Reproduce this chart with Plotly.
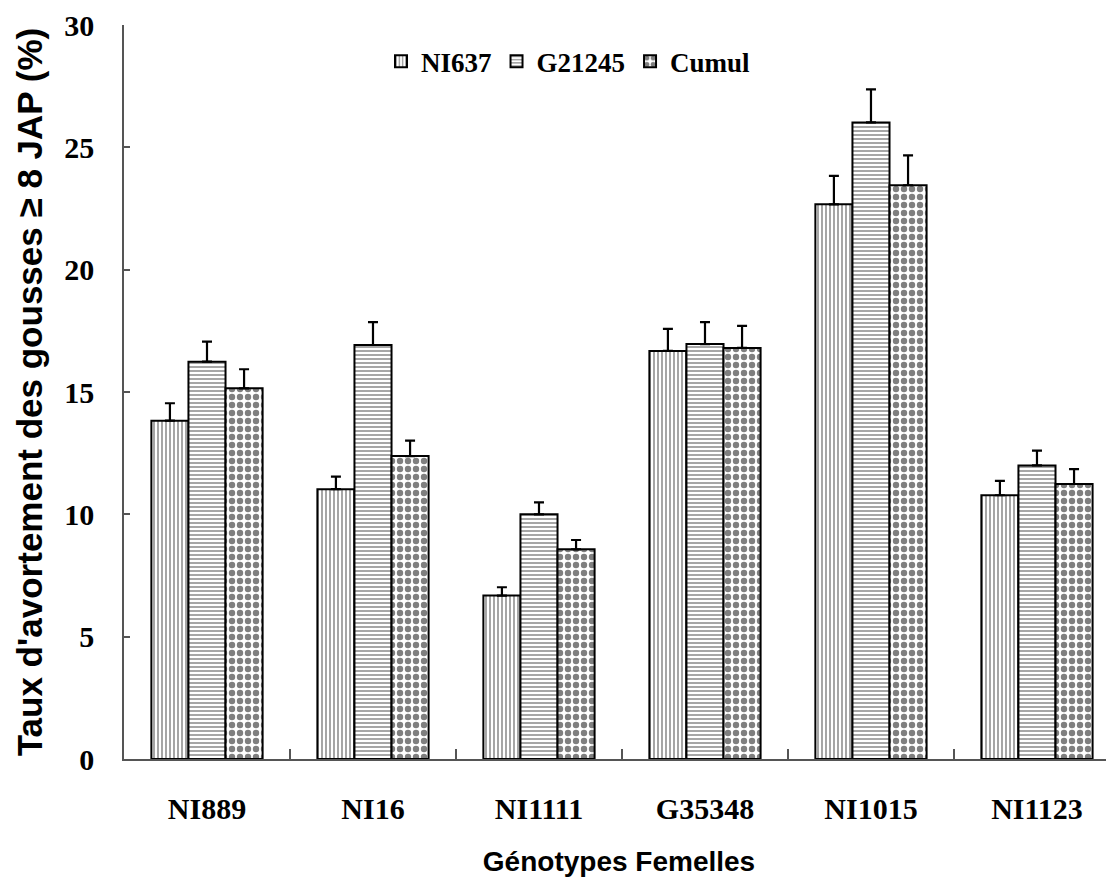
import plotly.graph_objects as go

categories = ["NI889", "NI16", "NI1111", "G35348", "NI1015", "NI1123"]
series_names = ["NI637", "G21245", "Cumul"]
ni637 = [13.83, 11.03, 6.68, 16.68, 22.67, 10.78]
g21245 = [16.24, 16.92, 10.0, 16.96, 26.02, 12.0]
cumul = [15.15, 12.38, 8.57, 16.8, 23.45, 11.24]
err_ni637 = [0.71, 0.51, 0.34, 0.90, 1.16, 0.59]
err_g21245 = [0.82, 0.94, 0.49, 0.90, 1.35, 0.60]
err_cumul = [0.78, 0.63, 0.38, 0.90, 1.22, 0.61]
y_ticks = [0, 5, 10, 15, 20, 25, 30]

values = [ni637, g21245, cumul]
errors = [err_ni637, err_g21245, err_cumul]
patterns = [
    dict(shape="|", size=4, solidity=0.35, fgcolor="black", bgcolor="white"),
    dict(shape="-", size=4, solidity=0.35, fgcolor="black", bgcolor="white"),
    dict(shape=".", size=8, solidity=0.5, fgcolor="black", bgcolor="white"),
]

fig = go.Figure()
for name, vals, errs, pat in zip(series_names, values, errors, patterns):
    fig.add_trace(go.Bar(
        x=categories, y=vals, name=name,
        marker=dict(color="white", pattern=pat, line=dict(color="black", width=2)),
        error_y=dict(type="data", array=errs, arrayminus=[0] * len(errs),
                     symmetric=False, color="black", thickness=2.2, width=5),
    ))

fig.update_layout(
    width=1114, height=879,
    margin=dict(l=116, r=8, t=17, b=128, autoexpand=False),
    paper_bgcolor="white", plot_bgcolor="white",
    barmode="group", bargap=0.33, bargroupgap=0,
    showlegend=True,
    legend=dict(orientation="h", x=0.449, xanchor="center", y=0.95, yanchor="middle",
                font=dict(family="Liberation Serif", size=27, color="black", weight="bold"),
                bgcolor="rgba(0,0,0,0)", tracegroupgap=0),
    font=dict(family="Liberation Serif", color="black"),
)
fig.update_xaxes(
    range=[-0.5, 5.464], tickson="boundaries", ticks="inside", ticklen=10,
    tickcolor="#555", tickwidth=1.5, showline=True, linecolor="#555", linewidth=1.5,
    showgrid=False, zeroline=False, automargin=False,
    tickvals=categories, ticktext=[f"<b>{c}</b>" for c in categories],
    tickfont=dict(family="Liberation Serif", size=30, color="black"),
    ticklabelstandoff=22,
    title=dict(text="<b>Génotypes Femelles</b>", standoff=28,
               font=dict(family="Liberation Sans", size=28, color="black")),
)
fig.update_yaxes(
    range=[0, 30], tickvals=y_ticks, ticktext=[f"<b>{v}</b>" for v in y_ticks],
    ticks="inside", ticklen=6, tickcolor="#555", tickwidth=1.5,
    showline=True, linecolor="#555", linewidth=1.5, showgrid=False, zeroline=False,
    automargin=False,
    tickfont=dict(family="Liberation Serif", size=30, color="black"),
    ticklabelstandoff=22,
    title=dict(text="<b>Taux d'avortement des gousses ≥ 8 JAP (%)</b>", standoff=11,
               font=dict(family="Liberation Sans", size=35, color="black")),
)

fig.write_html("out.html")
